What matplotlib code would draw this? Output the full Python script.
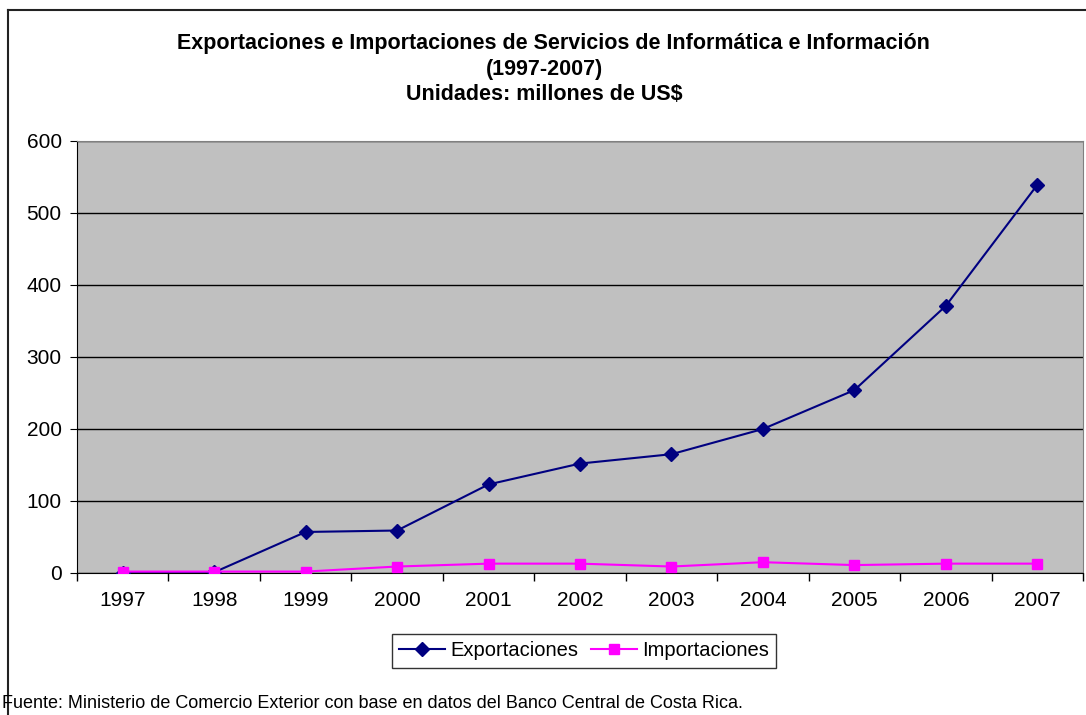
import numpy as np
import matplotlib
matplotlib.use("Agg")
import matplotlib.pyplot as plt
from matplotlib.lines import Line2D

plt.rcParams['font.family'] = ['Liberation Sans', 'DejaVu Sans']

years = ['1997', '1998', '1999', '2000', '2001', '2002', '2003', '2004', '2005', '2006', '2007']
exportaciones = [0, 1, 57, 59, 123, 152, 165, 200, 254, 371, 539]
importaciones = [2, 2, 2, 9, 13, 13, 9, 15, 11, 13, 13]

fig = plt.figure(figsize=(10.86, 7.15), dpi=100)
ax = fig.add_axes([77/1086, 1 - 573/715, 1006/1086, 432/715])
ax.set_facecolor('#c0c0c0')

x = np.arange(len(years))
ax.plot(x, exportaciones, color='#000080', lw=1.5, marker='D', ms=7,
        label='Exportaciones', zorder=3)
ax.plot(x, importaciones, color='#ff00ff', lw=1.5, marker='s', ms=6.5,
        label='Importaciones', zorder=3)

ax.set_xlim(-0.5, len(years) - 0.5)
ax.set_ylim(0, 600)
ax.set_yticks(range(0, 601, 100))
ax.set_xticks(x)
ax.set_xticklabels(years)
ax.set_xticks(np.arange(-0.5, len(years)), minor=True)
ax.tick_params(axis='x', which='major', length=0, pad=13, labelsize=15)
ax.tick_params(axis='x', which='minor', length=6, direction='out', width=1)
ax.tick_params(axis='y', length=5, direction='out', labelsize=15, pad=6)
ax.grid(axis='y', color='black', lw=1)
ax.set_axisbelow(True)
for s in ['top', 'right']:
    ax.spines[s].set_color('#808080')
for s in ['left', 'bottom']:
    ax.spines[s].set_color('black')

fig.text(553/1086, 1 - 44/715, 'Exportaciones e Importaciones de Servicios de Informática e Información',
         ha='center', va='center', fontsize=15.5, fontweight='bold')
fig.text(544/1086, 1 - 69/715, '(1997-2007)', ha='center', va='center', fontsize=15.5, fontweight='bold')
fig.text(544/1086, 1 - 94/715, 'Unidades: millones de US$', ha='center', va='center',
         fontsize=15.5, fontweight='bold')

leg = fig.legend(loc='center', bbox_to_anchor=(584/1086, 1 - 651/715), ncol=2,
                 fontsize=14.5, frameon=True, fancybox=False, edgecolor='black',
                 handlelength=2.3, columnspacing=0.6, handletextpad=0.25,
                 borderpad=0.35)
leg.get_frame().set_linewidth(1)

fig.text(2/1086, 1 - 703/715, 'Fuente: Ministerio de Comercio Exterior con base en datos del Banco Central de Costa Rica.',
         ha='left', va='center', fontsize=13)

# outer chart border
fig.add_artist(Line2D([8/1086, 8/1086], [0, 1 - 10/715], color='#222222', lw=1.5,
                      transform=fig.transFigure))
fig.add_artist(Line2D([8/1086, 1], [1 - 10/715, 1 - 10/715], color='#222222', lw=1.5,
                      transform=fig.transFigure))

fig.savefig('out.png', dpi=100)
